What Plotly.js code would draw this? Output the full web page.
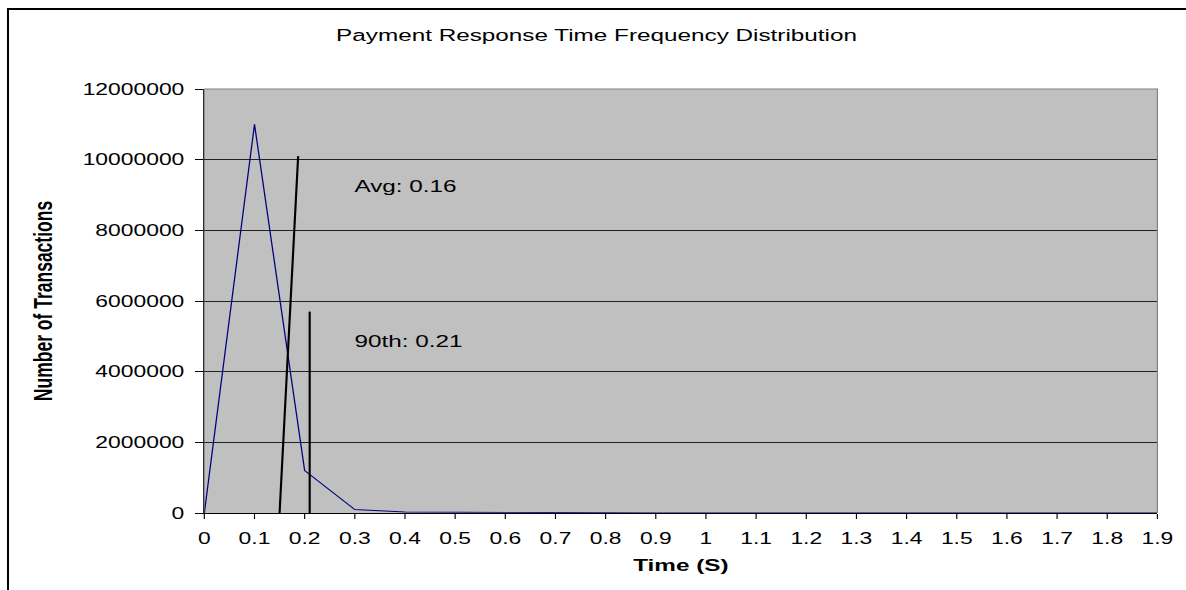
<!DOCTYPE html>
<html>
<head>
<meta charset="utf-8">
<script src="https://cdn.plot.ly/plotly-3.0.1.min.js"></script>
<style>
  html, body { margin: 0; padding: 0; background: #fff; overflow: hidden; }
  #frame { position: absolute; left: 7px; top: 8px; width: 1300px; height: 700px;
           border-left: 2px solid #000; border-top: 2px solid #000; }
  #chart { position: absolute; left: 0; top: 0; width: 830px; height: 590px;
           transform: scaleX(1.4289); transform-origin: 0 0; }
</style>
</head>
<body>
<div id="frame"></div>
<div id="chart"></div>
<script>
// Data
const times = [0, 0.1, 0.2, 0.3, 0.4, 0.5, 0.6, 0.7, 0.8, 0.9, 1.0, 1.1, 1.2, 1.3, 1.4, 1.5, 1.6, 1.7, 1.8, 1.9];
const counts = [0, 11000000, 1200000, 100000, 30000, 20000, 20000, 0, 0, 0, 0, 0, 0, 0, 0, 0, 0, 0, 0, 0];
const tickLabels = ["0","0.1","0.2","0.3","0.4","0.5","0.6","0.7","0.8","0.9","1","1.1","1.2","1.3","1.4","1.5","1.6","1.7","1.8","1.9"];
const avgLineX = [0.15, 0.187];
const avgLineY = [0, 10100000];
const p90LineX = [0.21, 0.21];
const p90LineY = [0, 5700000];
const yTicks = [0, 2000000, 4000000, 6000000, 8000000, 10000000, 12000000];
const yTickLabels = ["0","2000000","4000000","6000000","8000000","10000000","12000000"];

const font = "Arial, 'Liberation Sans', sans-serif";
const K = 1.4289; // horizontal stretch of the original picture

const traces = [
  { x: times, y: counts, type: "scatter", mode: "lines",
    line: { color: "#000080", width: 0.9 }, hoverinfo: "x+y" },
  { x: avgLineX, y: avgLineY, type: "scatter", mode: "lines",
    line: { color: "#000000", width: 1.5 } },
  { x: p90LineX, y: p90LineY, type: "scatter", mode: "lines",
    line: { color: "#000000", width: 1.5 } }
];

const layout = {
  width: 830, height: 590,
  margin: { l: 205 / K, r: 28 / K, t: 89, b: 77 },
  paper_bgcolor: "rgba(0,0,0,0)",
  plot_bgcolor: "#C0C0C0",
  showlegend: false,
  font: { family: font, color: "#000", size: 16 },
  title: { text: "Payment Response Time Frequency Distribution",
           font: { family: font, size: 17, color: "#000" },
           x: 0.503, xanchor: "center", y: 0.94, yanchor: "middle" },
  xaxis: {
    range: [0, 1.9], tickmode: "array", tickvals: times, ticktext: tickLabels,
    ticks: "outside", ticklen: 5, tickcolor: "#000", tickwidth: 0.8,
    ticklabelstandoff: 6,
    showgrid: false, zeroline: false,
    showline: true, linecolor: "#000", linewidth: 1,
    tickfont: { family: font, size: 16, color: "#000" },
    title: { text: "<b>Time (S)</b>", font: { family: font, size: 17, color: "#000" }, standoff: 12 }
  },
  yaxis: {
    range: [0, 12000000], tickmode: "array", tickvals: yTicks, ticktext: yTickLabels,
    ticks: "outside", ticklen: 6, tickcolor: "#000", tickwidth: 1,
    ticklabelstandoff: 4,
    showgrid: true, gridcolor: "#222", gridwidth: 1, zeroline: false,
    showline: true, linecolor: "#000", linewidth: 0.8,
    tickfont: { family: font, size: 16, color: "#000" },
    title: { text: "<b>Number of Transactions</b>", font: { family: font, size: 17.5, color: "#000" }, standoff: 16 }
  },
  shapes: [
    { type: "path", xref: "paper", yref: "paper", path: "M 0 1 L 1 1 L 1 0",
      line: { color: "#808080", width: 0.8 }, layer: "above" }
  ],
  annotations: [
    { x: 0.293, y: 9250000, xref: "x", yref: "y", text: "Avg: 0.16", showarrow: false,
      xanchor: "left", yanchor: "middle", font: { family: font, size: 17, color: "#000" } },
    { x: 0.293, y: 4840000, xref: "x", yref: "y", text: "90th: 0.21", showarrow: false,
      xanchor: "left", yanchor: "middle", font: { family: font, size: 17, color: "#000" } }
  ]
};

Plotly.newPlot("chart", traces, layout, { displayModeBar: false, staticPlot: true });
</script>
</body>
</html>
